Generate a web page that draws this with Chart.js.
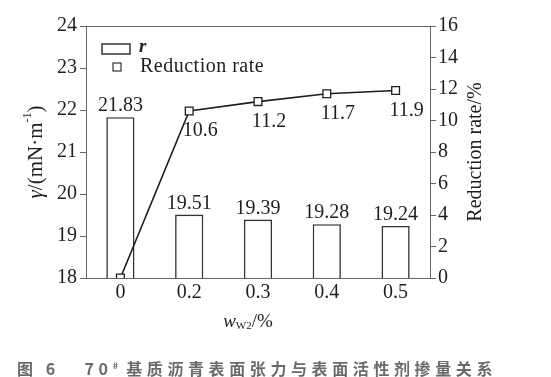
<!DOCTYPE html>
<html>
<head>
<meta charset="utf-8">
<script src="https://cdn.jsdelivr.net/npm/chart.js@4.4.1/dist/chart.umd.min.js"></script>
<style>
  html, body { margin: 0; padding: 0; background: #fff; }
  #wrap { position: relative; width: 551px; height: 377px; }
  #caption {
    position: absolute; left: 17px; top: 356px;
    font-family: "Noto Sans CJK SC", sans-serif; font-size: 16px; font-weight: bold;
    letter-spacing: 4.6px; color: #6a6a6a; white-space: nowrap; line-height: 20px;
  }
  #caption sup { font-size: 9px; letter-spacing: 0; }
</style>
</head>
<body>
<div id="wrap">
  <canvas id="myChart" width="551" height="377"></canvas>
  <div id="caption">图 6&nbsp;&nbsp; 70<sup>#</sup> 基质沥青表面张力与表面活性剂掺量关系</div>
</div>
<script>
const categories = ['0', '0.2', '0.3', '0.4', '0.5'];
const tensionValues = [21.83, 19.51, 19.39, 19.28, 19.24];
const reductionValues = [0, 10.6, 11.2, 11.7, 11.9];
const leftTicks = [18, 24, 1];   // min, max, step
const rightTicks = [0, 16, 2];

const serif = 'Liberation Serif';
const ink = '#1e1e1e';
const fs = 20;

// value labels over bars and under line points
const valueLabels = {
  id: 'valueLabels',
  afterDatasetsDraw(chart) {
    const ctx = chart.ctx;
    ctx.save();
    ctx.font = fs + 'px ' + serif;
    ctx.fillStyle = ink;
    ctx.textAlign = 'center';
    ctx.textBaseline = 'middle';
    chart.getDatasetMeta(1).data.forEach((bar, i) => {
      ctx.fillText(tensionValues[i].toFixed(2), bar.x, bar.y - 11);
    });
    chart.getDatasetMeta(0).data.forEach((pt, i) => {
      if (reductionValues[i] === 0) return;
      ctx.fillText(String(reductionValues[i]), pt.x + 11, pt.y + 20);
    });
    ctx.restore();
  }
};

// box, legend and axis titles
const decor = {
  id: 'decor',
  afterDraw(chart) {
    const ctx = chart.ctx;
    const a = chart.chartArea;
    ctx.save();
    ctx.strokeStyle = '#666';
    ctx.lineWidth = 1;
    ctx.strokeRect(Math.round(a.left) + 0.5, Math.round(a.top) + 0.5,
      Math.round(a.right - a.left), Math.round(a.bottom - a.top));

    // legend
    ctx.strokeStyle = '#333';
    ctx.lineWidth = 1.5;
    ctx.fillStyle = '#fff';
    ctx.fillRect(a.left + 16, a.top + 18, 28, 10);
    ctx.strokeRect(a.left + 16, a.top + 18, 28, 10);
    ctx.lineWidth = 1.2;
    ctx.fillRect(a.left + 27, a.top + 37, 8, 8);
    ctx.strokeRect(a.left + 27, a.top + 37, 8, 8);
    ctx.fillStyle = ink;
    ctx.textBaseline = 'middle';
    ctx.textAlign = 'left';
    ctx.font = 'italic bold 19px ' + serif;
    ctx.fillText(chart.data.datasets[1].label, a.left + 53, a.top + 21);
    ctx.font = '20px ' + serif;
    ctx.letterSpacing = '0.5px';
    ctx.fillText(chart.data.datasets[0].label, a.left + 54, a.top + 41);
    ctx.letterSpacing = '0px';

    // left title: γ/(mN·m⁻¹)
    ctx.save();
    ctx.translate(36, (a.top + a.bottom) / 2);
    ctx.rotate(-Math.PI / 2);
    const parts = [
      ['italic 21px ' + serif, 'γ', 0],
      ['21px ' + serif, '/(mN·m', 0],
      ['12px ' + serif, '-1', -8],
      ['21px ' + serif, ')', 0]
    ];
    let w = 0;
    parts.forEach(p => { ctx.font = p[0]; w += ctx.measureText(p[1]).width; });
    let x = -w / 2;
    parts.forEach(p => {
      ctx.font = p[0];
      ctx.fillText(p[1], x, p[2]);
      x += ctx.measureText(p[1]).width;
    });
    ctx.restore();

    // right title
    ctx.save();
    ctx.translate(476, (a.top + a.bottom) / 2);
    ctx.rotate(-Math.PI / 2);
    ctx.font = '20px ' + serif;
    ctx.textAlign = 'center';
    ctx.fillText('Reduction rate/%', 0, 0);
    ctx.restore();

    // x title: w_W2/%
    const xParts = [
      ['italic 19px ' + serif, 'w', 0],
      ['11px ' + serif, 'W2', 4],
      ['19px ' + serif, '/%', 0]
    ];
    w = 0;
    xParts.forEach(p => { ctx.font = p[0]; w += ctx.measureText(p[1]).width; });
    x = 248 - w / 2;
    xParts.forEach(p => {
      ctx.font = p[0];
      ctx.fillText(p[1], x, 322 + p[2]);
      x += ctx.measureText(p[1]).width;
    });
    ctx.restore();
  }
};

const ctx = document.getElementById('myChart');

new Chart(ctx, {
  type: 'bar',
  data: {
    labels: categories,
    datasets: [{
      type: 'line',
      label: 'Reduction rate',
      data: reductionValues,
      yAxisID: 'y1',
      order: 0,
      borderColor: ink,
      borderWidth: 1.6,
      pointStyle: 'rect',
      pointRadius: 5.5,
      pointBackgroundColor: '#fff',
      pointBorderColor: ink,
      pointBorderWidth: 1.3,
      tension: 0
    }, {
      label: 'r',
      data: tensionValues,
      yAxisID: 'y',
      order: 1,
      backgroundColor: '#fff',
      borderColor: '#333',
      borderWidth: 1.6,
      barPercentage: 0.41,
      categoryPercentage: 1
    }]
  },
  options: {
    responsive: false,
    animation: false,
    layout: { padding: { top: 26, left: 0, right: 0, bottom: 0 } },
    plugins: { legend: { display: false }, tooltip: { enabled: false } },
    scales: {
      x: {
        offset: true,
        grid: { display: false, drawTicks: false },
        border: { display: false },
        ticks: { font: { family: serif, size: fs }, color: ink, padding: 3 },
        afterFit(scale) { scale.height = 99; }
      },
      y: {
        position: 'left',
        min: leftTicks[0],
        max: leftTicks[1],
        ticks: { stepSize: leftTicks[2], font: { family: serif, size: fs }, color: ink, padding: 3 },
        grid: { drawOnChartArea: false, tickLength: 6, color: '#666' },
        border: { display: false },
        afterFit(scale) { scale.width = 86; }
      },
      y1: {
        position: 'right',
        min: rightTicks[0],
        max: rightTicks[1],
        ticks: { stepSize: rightTicks[2], font: { family: serif, size: fs }, color: ink, padding: 2 },
        grid: { drawOnChartArea: false, tickLength: 6, color: '#666' },
        border: { display: false },
        afterFit(scale) { scale.width = 121; }
      }
    }
  },
  plugins: [valueLabels, decor]
});
</script>
</body>
</html>
